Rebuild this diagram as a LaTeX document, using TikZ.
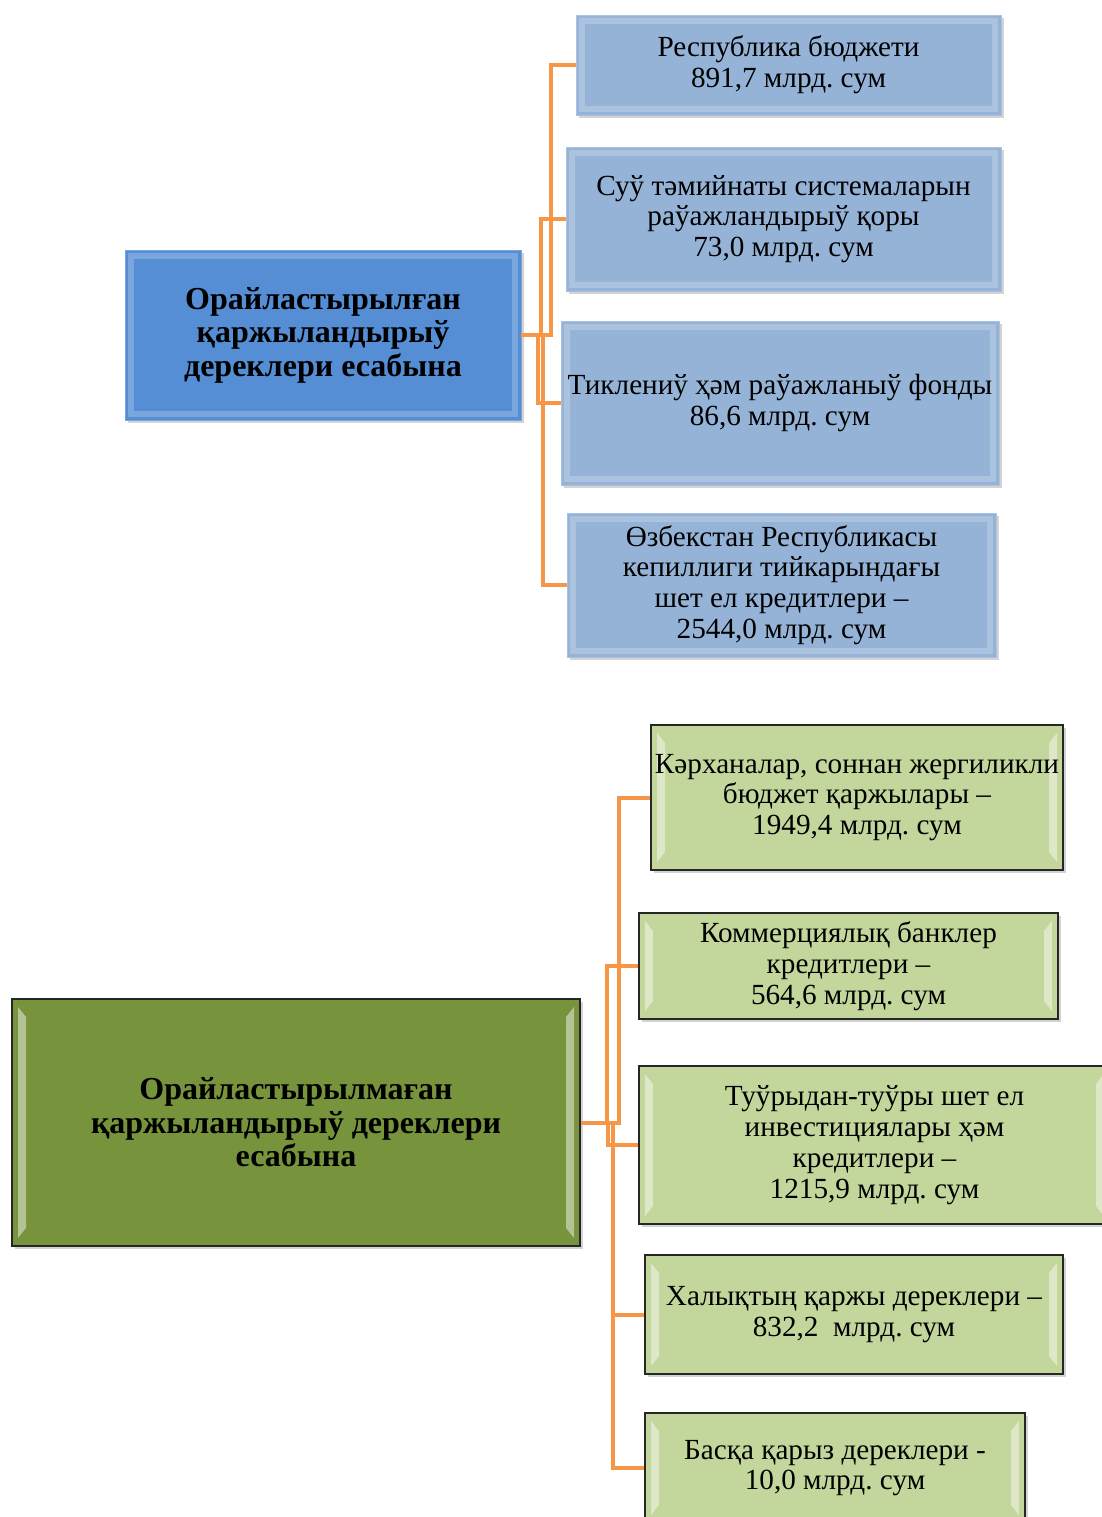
\documentclass[tikz,border=0pt]{standalone}
\usepackage{fontspec}
\setmainfont{Liberation Serif}
\usetikzlibrary{shadows}
\frenchspacing

\definecolor{mainblue}{RGB}{85,142,213}
\definecolor{subblue}{RGB}{149,179,215}
\definecolor{maingreen}{RGB}{119,147,60}
\definecolor{subgreen}{RGB}{195,214,155}
\definecolor{connorange}{RGB}{247,150,70}

\begin{document}
\begin{tikzpicture}[x=0.5pt, y=-0.5pt,
  box/.style={rectangle, align=center, inner sep=1pt,
    font=\fontsize{14.6}{15.4}\selectfont,
    drop shadow={shadow xshift=1.5pt, shadow yshift=-1.5pt, opacity=0.35}},
  bluebevel/.style={path picture={
    \draw[white, opacity=0.22, line width=3pt]
      ([shift={(3pt,-3pt)}]path picture bounding box.north west) rectangle
      ([shift={(-3pt,3pt)}]path picture bounding box.south east);}},
  greenbevel/.style={path picture={
    \fill[white, opacity=0.45]
      ([shift={(3pt,-4pt)}]path picture bounding box.north west) --
      ([shift={(7pt,-9pt)}]path picture bounding box.north west) --
      ([shift={(7pt,9pt)}]path picture bounding box.south west) --
      ([shift={(3pt,4pt)}]path picture bounding box.south west) -- cycle;
    \fill[white, opacity=0.45]
      ([shift={(-3pt,-4pt)}]path picture bounding box.north east) --
      ([shift={(-7pt,-9pt)}]path picture bounding box.north east) --
      ([shift={(-7pt,9pt)}]path picture bounding box.south east) --
      ([shift={(-3pt,4pt)}]path picture bounding box.south east) -- cycle;}},
  mainbox/.style={box, font=\fontsize{16}{16.8}\selectfont\bfseries},
  topmain/.style={mainbox, fill=mainblue, draw=mainblue!80!white, bluebevel},
  topsub/.style={box, fill=subblue, draw=subblue!80!white, bluebevel},
  botmain/.style={mainbox, fill=maingreen, draw=black!85, line width=0.8pt, greenbevel},
  botsub/.style={box, fill=subgreen, draw=black!85, line width=0.8pt, greenbevel},
  conn/.style={draw=connorange, line width=2pt}]

\useasboundingbox (0,0) rectangle (1102,1517);

% first group
\node[topmain, minimum width=198pt, minimum height=85pt] (plan) at (323,335)
  {Орайластырылған\\ қаржыландырыў\\ дереклери есабына};

\node[topsub, minimum width=212.5pt, minimum height=50pt] (budget) at (788.5,65)
  {Республика бюджети\\ 891,7 млрд. сум};
\node[topsub, minimum width=217.5pt, minimum height=72pt] (water) at (783.5,219)
  {Суў тәмийнаты системаларын\\ раўажландырыў қоры\\ 73,0 млрд. сум};
\node[topsub, minimum width=219pt, minimum height=82pt] (fund) at (780,403)
  {Тиклениў ҳәм раўажланыў фонды\\ 86,6 млрд. сум};
\node[topsub, minimum width=214.5pt, minimum height=72pt] (guar) at (781.5,585)
  {Өзбекстан Республикасы\\ кепиллиги тийкарындағы\\ шет ел кредитлери --\\ 2544,0 млрд. сум};

\draw[conn] (plan.east) -- ++(30,0) |- (budget.west);
\draw[conn] (plan.east) -- ++(20,0) |- (water.west);
\draw[conn] (plan.east) -- ++(17,0) |- (fund.west);
\draw[conn] (plan.east) -- ++(22,0) |- (guar.west);

% second group
\node[botmain, minimum width=284pt, minimum height=123.5pt] (noplan) at (296,1122.5)
  {Орайластырылмаған\\ қаржыландырыў дереклери\\ есабына};

\node[botsub, minimum width=206pt, minimum height=72.5pt] (firms) at (857,797.5)
  {Кәрханалар, соннан жергиликли\\ бюджет қаржылары --\\ 1949,4 млрд. сум};
\node[botsub, minimum width=209.5pt, minimum height=53pt] (banks) at (848.5,966)
  {Коммерциялық банклер\\ кредитлери --\\ 564,6 млрд. сум};
\node[botsub, minimum width=235.5pt, minimum height=79pt] (invest) at (874.5,1145)
  {Туўрыдан-туўры шет ел\\ инвестициялары ҳәм\\ кредитлери --\\ 1215,9 млрд. сум};
\node[botsub, minimum width=209pt, minimum height=59.5pt] (people) at (854,1314.5)
  {Халықтың қаржы дереклери --\\ 832,2~~млрд. сум};
\node[botsub, minimum width=190pt, minimum height=55pt] (other) at (835,1468)
  {Басқа қарыз дереклери -\\ 10,0 млрд. сум};

\draw[conn] (noplan.east) -- ++(38,0) |- (firms.west);
\draw[conn] (noplan.east) -- ++(26,0) |- (banks.west);
\draw[conn] (noplan.east) -- ++(27,0) |- (invest.west);
\draw[conn] (noplan.east) -- ++(32,0) |- (people.west);
\draw[conn] (noplan.east) -- ++(32,0) |- (other.west);

\end{tikzpicture}
\end{document}
